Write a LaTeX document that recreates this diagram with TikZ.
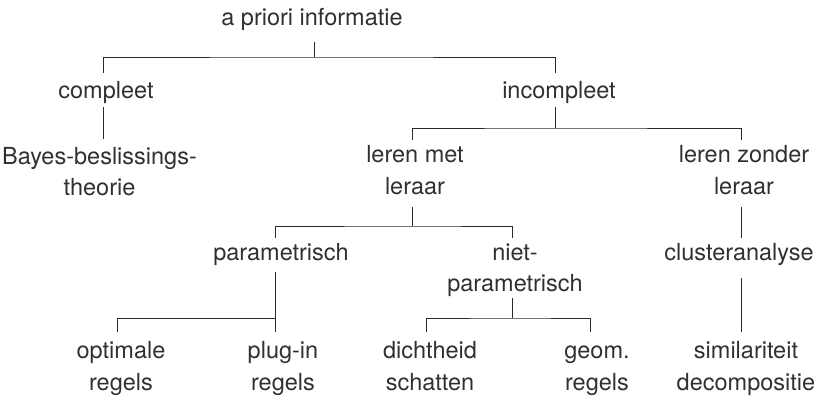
\documentclass[tikz,border=0pt]{standalone}
\usepackage{fontspec}
\setmainfont{TeX Gyre Heros}
\definecolor{ink}{HTML}{303030}
\definecolor{wire}{HTML}{2a2a2a}
\newcommand\twolines[2]{\begin{tabular}[t]{@{}c@{}}#1\\#2\end{tabular}}
\begin{document}
\begin{tikzpicture}[x=1pt,y=1pt,
  label/.style={anchor=base,inner sep=0pt,text=ink,
    font=\fontsize{23.5}{32}\selectfont},
  link/.style={draw=wire,line width=0.9pt}]
\useasboundingbox (0,0) rectangle (820,397);

% labels (positioned at their first baseline)
\node[label] (root)   at (312,371)   {a priori informatie};
\node[label] (comp)   at (106,298.5) {compleet};
\node[label] (incomp) at (559,298.5) {incompleet};
\node[label] (bayes)  at (99.5,233)  {\twolines{Bayes-beslissings-}{theorie}};
\node[label] (lm)     at (415,234)   {\twolines{leren met}{leraar}};
\node[label] (lz)     at (744,234)   {\twolines{leren zonder}{leraar}};
\node[label] (param)  at (281,137)   {parametrisch};
\node[label] (niet)   at (515,137)   {\twolines{niet-}{parametrisch}};
\node[label] (cluster) at (739,137)  {clusteranalyse};
\node[label] (opt)    at (121,39)    {\twolines{optimale}{regels}};
\node[label] (plug)   at (283,39)    {\twolines{plug-in}{regels}};
\node[label] (dicht)  at (430,39)    {\twolines{dichtheid}{schatten}};
\node[label] (geom)   at (597,39)    {\twolines{geom.}{regels}};
\node[label] (simil)  at (746,39)    {\twolines{similariteit}{decompositie}};

% a priori informatie -> compleet / incompleet
\draw[link] ([xshift=2pt,yshift=-16pt]root.base) -- ++(0,-15) coordinate (j1);
\draw[link] ([xshift=-3pt,yshift=25.5pt]comp.base) |- (j1)
            -| ([xshift=-4pt,yshift=25.5pt]incomp.base);

% compleet -> Bayes
\draw[link] ([xshift=-3pt,yshift=-8.5pt]comp.base)
            -- ([xshift=3.5pt,yshift=25pt]bayes.base);

% incompleet -> leren met / zonder leraar
\draw[link] ([xshift=-4pt,yshift=-8.5pt]incomp.base) -- ++(0,-21) coordinate (j2);
\draw[link] ([xshift=-3pt,yshift=23pt]lm.base) |- (j2)
            -| ([xshift=-3pt,yshift=23pt]lz.base);

% leren met leraar -> parametrisch / niet-parametrisch
\draw[link] ([xshift=-3pt,yshift=-44pt]lm.base) -- ++(0,-19) coordinate (j3);
\draw[link] ([xshift=-6pt,yshift=22pt]param.base) |- (j3)
            -| ([xshift=-3pt,yshift=22pt]niet.base);

% parametrisch -> optimale / plug-in
\draw[link] ([xshift=-6pt,yshift=-12pt]param.base) -- ++(0,-46) coordinate (j4);
\draw[link] ([xshift=-4pt,yshift=26pt]opt.base) |- (j4)
            -- ([xshift=-8pt,yshift=26pt]plug.base);

% niet-parametrisch -> dichtheid / geom.
\draw[link] ([xshift=-3pt,yshift=-38pt]niet.base) -- ++(0,-20) coordinate (j5);
\draw[link] ([xshift=-4pt,yshift=26pt]dicht.base) |- (j5)
            -| ([xshift=-7pt,yshift=26pt]geom.base);

% leren zonder leraar -> clusteranalyse -> similariteit
\draw[link] ([xshift=-3pt,yshift=-44pt]lz.base)
            -- ([xshift=2pt,yshift=22pt]cluster.base);
\draw[link] ([xshift=2pt,yshift=-18pt]cluster.base)
            -- ([xshift=-5pt,yshift=26pt]simil.base);
\end{tikzpicture}
\end{document}
